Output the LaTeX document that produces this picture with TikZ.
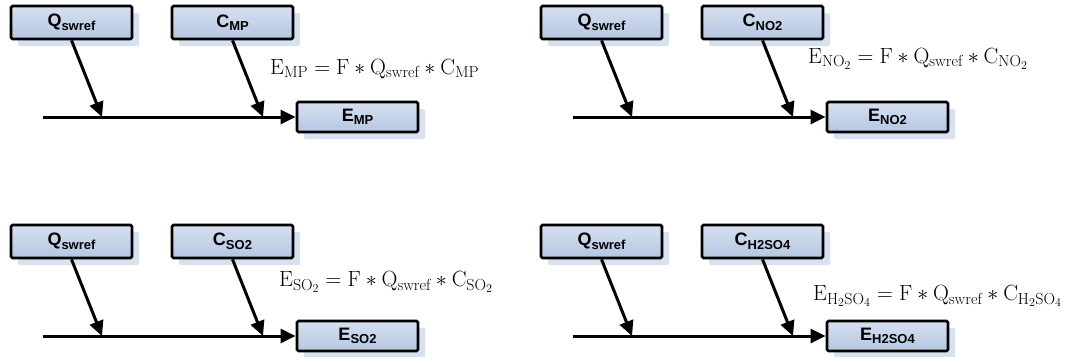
\documentclass[tikz,border=0pt]{standalone}
\usepackage{fix-cm}
\usepackage{fontspec}
\newfontfamily\arialfont{Liberation Sans}
\usetikzlibrary{arrows.meta,shadows,backgrounds}
\DeclareMathSizes{22}{22}{16}{12}
\definecolor{boxtop}{HTML}{D6E0F0}
\definecolor{boxbot}{HTML}{B5C6E2}
\definecolor{shblue}{HTML}{D8E1F0}
\newcommand\boxsub[1]{\raisebox{-3.5pt}{\fontsize{13}{13}\selectfont #1}}
\tikzset{
  pbox/.style={draw=black, line width=2.8pt, rounded corners=1.5pt,
    top color=boxtop, bottom color=boxbot,
    minimum width=121pt, minimum height=33pt, inner sep=0pt,
    font=\arialfont\bfseries\fontsize{18}{18}\selectfont,
    drop shadow={shadow xshift=7pt, shadow yshift=-7pt, fill=shblue, opacity=1}},
  ebox/.style={pbox, minimum height=30pt},
  arr/.style={line width=3pt, -{Triangle[length=15pt,width=14pt]}},
  sharr/.style={draw=shblue, line width=3.5pt, -{Triangle[length=15pt,width=14pt]}},
  frm/.style={font=\fontsize{22}{22}\selectfont, inner sep=0pt}
}
\newcommand\mypanel[5]{%
\begin{scope}[shift={(#2,#3)}]
  \node[pbox] (#1q) at (71.5,22.5) {Q\boxsub{swref}};
  \node[pbox] (#1c) at (232.5,22.5) {C\boxsub{#4}};
  \node[ebox] (#1e) at (357.5,117) {E\boxsub{#5}};
  \coordinate (#1s) at (43,117);
  \coordinate (#1a) at (102,117);
  \coordinate (#1b) at (263,117);
  \begin{pgfonlayer}{background}
    \draw[sharr] ([shift={(7,7)}]#1s) -- ([shift={(7,7)}]#1e.west);
    \draw[sharr] ([shift={(7,7)}]#1q.south) -- ([shift={(7,7)}]#1a);
    \draw[sharr] ([shift={(7,7)}]#1c.south) -- ([shift={(7,7)}]#1b);
  \end{pgfonlayer}
  \draw[arr] (#1s) -- (#1e.west);
  \draw[arr] (#1q.south) -- (#1a);
  \draw[arr] (#1c.south) -- (#1b);
\end{scope}}
\begin{document}
\begin{tikzpicture}[x=1pt,y=-1pt]
\useasboundingbox[fill=white] (0,0) rectangle (1068,356);
\mypanel{p1}{0}{0}{MP}{MP}
\mypanel{p2}{530}{0}{NO2}{NO2}
\mypanel{p3}{0}{219}{SO2}{SO2}
\mypanel{p4}{530}{219}{H2SO4}{H2SO4}
\node[frm, anchor=base west] (f1) at (270,74) {$\mathrm{E_{MP}} = \mathrm{F} \ast \mathrm{Q_{swref}} \ast \mathrm{C_{MP}}$};
\node[frm, anchor=base west] (f2) at (808,63) {$\mathrm{E_{NO_2}} = \mathrm{F} \ast \mathrm{Q_{swref}} \ast \mathrm{C_{NO_2}}$};
\node[frm, anchor=base west] (f3) at (279,286.5) {$\mathrm{E_{SO_2}} = \mathrm{F} \ast \mathrm{Q_{swref}} \ast \mathrm{C_{SO_2}}$};
\node[frm, anchor=base west] (f4) at (813,300.5) {$\mathrm{E_{H_2SO_4}} = \mathrm{F} \ast \mathrm{Q_{swref}} \ast \mathrm{C_{H_2SO_4}}$};
\end{tikzpicture}
\end{document}
